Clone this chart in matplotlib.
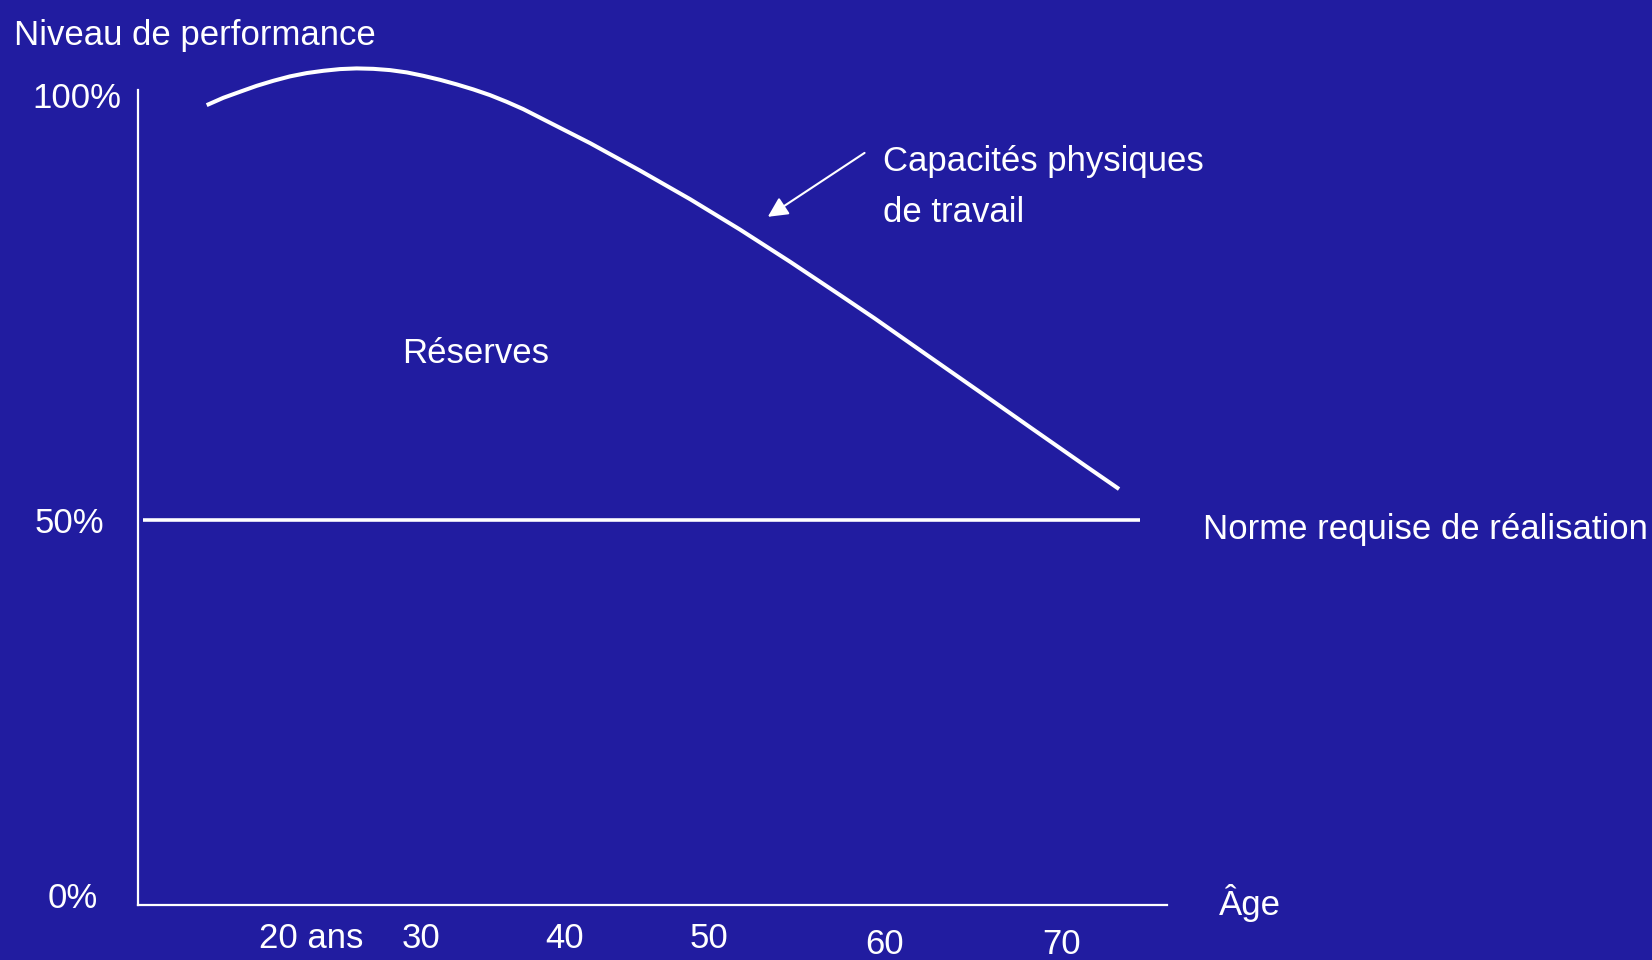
import numpy as np
import matplotlib.pyplot as plt

# Schematic: physical work capacity vs. age
age = [15.12, 16.27, 17.43, 18.59, 19.74, 20.90, 22.06, 23.22, 24.38, 25.53,
       26.69, 27.85, 29.01, 30.16, 31.32, 32.48, 33.63, 34.79, 35.95, 37.10,
       38.26, 41.74, 45.21, 48.68, 52.15, 55.63, 59.10,
       61.49, 65.14, 68.82, 72.43, 76.11, 78.47]
capacity = [98.82, 99.68, 100.39, 101.09, 101.68, 102.20, 102.59, 102.86, 103.06, 103.14,
            103.09, 102.94, 102.67, 102.27, 101.80, 101.26, 100.67, 100.00, 99.21, 98.35,
            97.35, 94.35, 91.12, 87.76, 84.18, 80.39, 76.47,
            73.74, 69.41, 65.06, 60.76, 56.41, 53.65]
norm_level = 50
norm_span = [10.7, 79.9]

x_labels = ["20 ans", "30", "40", "50", "60", "70"]
x_label_pos = [22.4, 30, 40, 50, 62.2, 74.5]
y_labels = ["100%", "50%", "0%"]

bg = "#211ca0"
plt.rcParams['font.family'] = ['Liberation Sans', 'DejaVu Sans']

W, H = 1652, 960
fig = plt.figure(figsize=(W / 100, H / 100), dpi=100, facecolor=bg)
ax = fig.add_axes([138 / W, (H - 905) / H, (1167 - 138) / W, (905 - 90) / H])
ax.set_facecolor(bg)
ax.set_xlim(10.35, 81.8)
ax.set_ylim(4.71, 100.6)

for s in ["top", "right"]:
    ax.spines[s].set_visible(False)
for s in ["left", "bottom"]:
    ax.spines[s].set_color("white")
    ax.spines[s].set_linewidth(1.6)
ax.set_xticks([])
ax.set_yticks([])

ax.plot(age, capacity, color="white", lw=2.9, clip_on=False,
        solid_capstyle="butt", solid_joinstyle="round")
ax.hlines(norm_level, norm_span[0], norm_span[1], color="white", lw=2.6)

fs = 25
xt = ax.get_xaxis_transform()
for lab, pos in zip(x_labels, x_label_pos):
    yy = -0.049 if lab in ("60", "70") else -0.041
    ax.text(pos, yy, lab, transform=xt, color="white", fontsize=fs,
            ha="center", va="center", clip_on=False)

yt = ax.get_yaxis_transform()
ax.text(-0.016, 99.6, y_labels[0], transform=yt, color="white", fontsize=fs, ha="right", va="center")
ax.text(-0.033, 49.6, y_labels[1], transform=yt, color="white", fontsize=fs, ha="right", va="center")
ax.text(-0.039, 0.0075, y_labels[2], transform=ax.transAxes, color="white", fontsize=fs, ha="right", va="center")

fig.text(14 / W, 1 - 35 / H, "Niveau de performance", color="white", fontsize=fs, ha="left", va="center")
fig.text(1219 / W, 1 - 903 / H, "Âge", color="white", fontsize=fs, ha="left", va="center")
ax.text(28.68, 69.6, "Réserves", color="white", fontsize=fs, ha="left", va="center")
fig.text(1203 / W, 1 - 530 / H, "Norme requise de réalisation", color="white", fontsize=fs,
         ha="left", va="center")
fig.text(883 / W, 1 - 162 / H, "Capacités physiques", color="white", fontsize=fs,
         ha="left", va="center")
fig.text(883 / W, 1 - 213 / H, "de travail", color="white", fontsize=fs, ha="left", va="center")

ax.annotate("", xy=(54.08, 85.68), xytext=(60.8, 93.2),
            arrowprops=dict(arrowstyle="-|>", color="white", lw=1.5, mutation_scale=30,
                            shrinkA=0, shrinkB=0))

fig.savefig("out.png", dpi=100, facecolor=bg)
